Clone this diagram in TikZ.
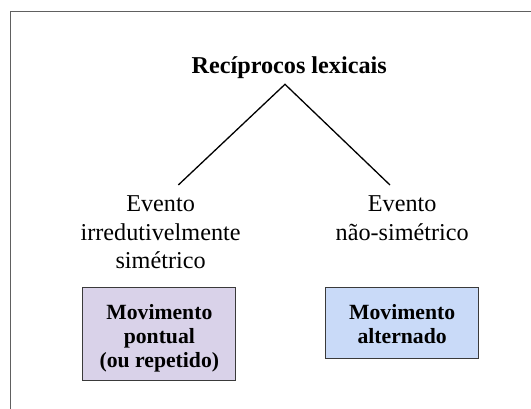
\documentclass[tikz,border=0pt]{standalone}
\usepackage{fontspec}
\setmainfont{Liberation Serif}
\definecolor{framegray}{HTML}{606060}
\definecolor{boxline}{HTML}{3A3A3A}
\definecolor{lavender}{HTML}{D9D2E9}
\definecolor{lightblue}{HTML}{C9DAF8}
\tikzset{
  titletext/.style={font=\fontsize{24.2}{28.3}\selectfont\bfseries, inner sep=0pt, anchor=base},
  eventtext/.style={font=\fontsize{24.2}{28.3}\selectfont, align=center, inner sep=0pt, anchor=base},
  catbox/.style={draw=boxline, line width=1pt, inner sep=0pt, align=center,
    font=\fontsize{21.7}{24}\selectfont\bfseries, minimum width=153pt, text depth=0pt},
  branch/.style={line width=1.3pt, black},
}
\begin{document}
\begin{tikzpicture}[x=1pt, y=-1pt]
\clip (0,0) rectangle (531,408);
\fill[white] (0,0) rectangle (531,408);
\draw[framegray, line width=1pt] (10,11.7) rectangle (560,440);
\node[titletext] (title) at (289.2,73.3) {Recíprocos lexicais};
\node[eventtext] (evL) at (160.6,268.3) {Evento\\irredutivelmente\\simétrico};
\node[eventtext] (evR) at (402.2,240) {Evento\\não-simétrico};
\coordinate (apex) at (285,84.3);
\coordinate (endL) at (178.3,185);
\coordinate (endR) at (390,185);
\draw[branch] (endL) -- (apex) -- (endR);
\node[catbox, fill=lavender, minimum height=93.4pt, text height=66.6pt] (boxL) at (159.35,334) {Movimento\\pontual\\(ou repetido)};
\node[catbox, fill=lightblue, minimum height=71pt, text height=41pt] (boxR) at (402.15,322.8) {Movimento\\alternado};
\end{tikzpicture}
\end{document}
